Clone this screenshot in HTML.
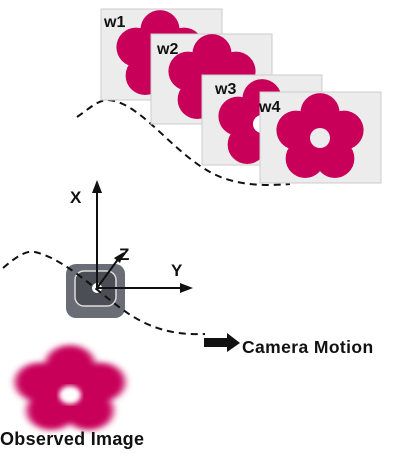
<!DOCTYPE html>
<html><head><style>
html,body{margin:0;padding:0;background:#fff;width:412px;height:456px;overflow:hidden}
svg{display:block}
text{font-family:"Liberation Sans",sans-serif;font-weight:bold;fill:#111}
</style></head><body>
<svg width="412" height="456" viewBox="0 0 412 456">
<defs>
<symbol id="fl" viewBox="-50 -50 100 100" overflow="visible">
<circle cx="0" cy="-22" r="17"/><circle cx="20.9" cy="-6.8" r="17"/><circle cx="12.9" cy="17.8" r="17"/><circle cx="-12.9" cy="17.8" r="17"/><circle cx="-20.9" cy="-6.8" r="17"/><circle cx="0" cy="0" r="20"/>
</symbol>
<clipPath id="c1"><rect x="101" y="9" width="121" height="91"/></clipPath>
<clipPath id="c2"><rect x="151" y="34" width="121" height="90"/></clipPath>
<clipPath id="c3"><rect x="202" y="75" width="120" height="90"/></clipPath>
<clipPath id="c4"><rect x="260" y="92" width="121" height="91"/></clipPath>
<filter id="bl"><feGaussianBlur stdDeviation="2.5"/></filter>
</defs>
<path d="M77 117 C90 108 98 100 108 100 C140 102 170 150 210 172 C235 186 265 186 290 184" fill="none" stroke="#111" stroke-width="2" stroke-dasharray="7,5"/>
<g fill="#c8005a">
<rect x="101" y="9" width="121" height="91" fill="#ececec" stroke="#ccc"/>
<g clip-path="url(#c1)"><use href="#fl" x="102.5" y="-2.5" width="115" height="115"/></g>
<rect x="151" y="34" width="121" height="90" fill="#ececec" stroke="#ccc"/>
<g clip-path="url(#c2)"><use href="#fl" x="154.5" y="21.5" width="115" height="115"/></g>
<rect x="202" y="75" width="120" height="90" fill="#ececec" stroke="#ccc"/>
<g clip-path="url(#c3)"><use href="#fl" x="204.5" y="66.5" width="115" height="115"/><circle cx="262" cy="124" r="9" fill="#fff"/></g>
<rect x="260" y="92" width="121" height="91" fill="#ececec" stroke="#ccc"/>
<g clip-path="url(#c4)"><use href="#fl" x="262.5" y="80.5" width="115" height="115"/><circle cx="320" cy="138" r="10" fill="#ececec"/></g>
</g>
<text x="104" y="27" font-size="16">w1</text>
<text x="157" y="54" font-size="16">w2</text>
<text x="215" y="94" font-size="16">w3</text>
<text x="259" y="112" font-size="16">w4</text>
<rect x="66" y="264" width="59" height="54" rx="10" fill="#6a6d75"/>
<rect x="75" y="271" width="41" height="35" rx="9" fill="#4b4e55" stroke="#dcdcdc" stroke-width="1.5"/>
<circle cx="97" cy="288" r="5" fill="#fff"/>
<path d="M3 268 C15 258 25 250 35 252 C60 258 85 280 110 300 C135 320 160 336 205 334" fill="none" stroke="#111" stroke-width="2" stroke-dasharray="7,5"/>
<g stroke="#111" stroke-width="2" fill="#111">
<line x1="97" y1="288" x2="97" y2="186"/>
<line x1="97" y1="288" x2="186" y2="288"/>
<line x1="97" y1="288" x2="119" y2="258"/>
</g>
<polygon points="97,180 92,193 102,193" fill="#111"/>
<polygon points="193,288 180,283 180,293" fill="#111"/>
<polygon points="124,252 114,258 120,263" fill="#111"/>
<text x="70" y="203" font-size="17">X</text>
<text x="171" y="276" font-size="17">Y</text>
<text x="119" y="260" font-size="17">Z</text>
<polygon points="204,338 227,338 227,333 240,343 227,352 227,347 204,347" fill="#111"/>
<text x="242" y="353" font-size="17.5" letter-spacing="0.4">Camera Motion</text>
<g fill="#c8005a" filter="url(#bl)" transform="translate(70,390) scale(1.45,1.15)">
<use href="#fl" x="-50" y="-50" width="100" height="100"/>
</g>
<ellipse cx="70" cy="395" rx="11" ry="9" fill="#fff" filter="url(#bl)"/>
<text x="0" y="445" font-size="18" letter-spacing="0.3">Observed Image</text>
</svg>
</body></html>
